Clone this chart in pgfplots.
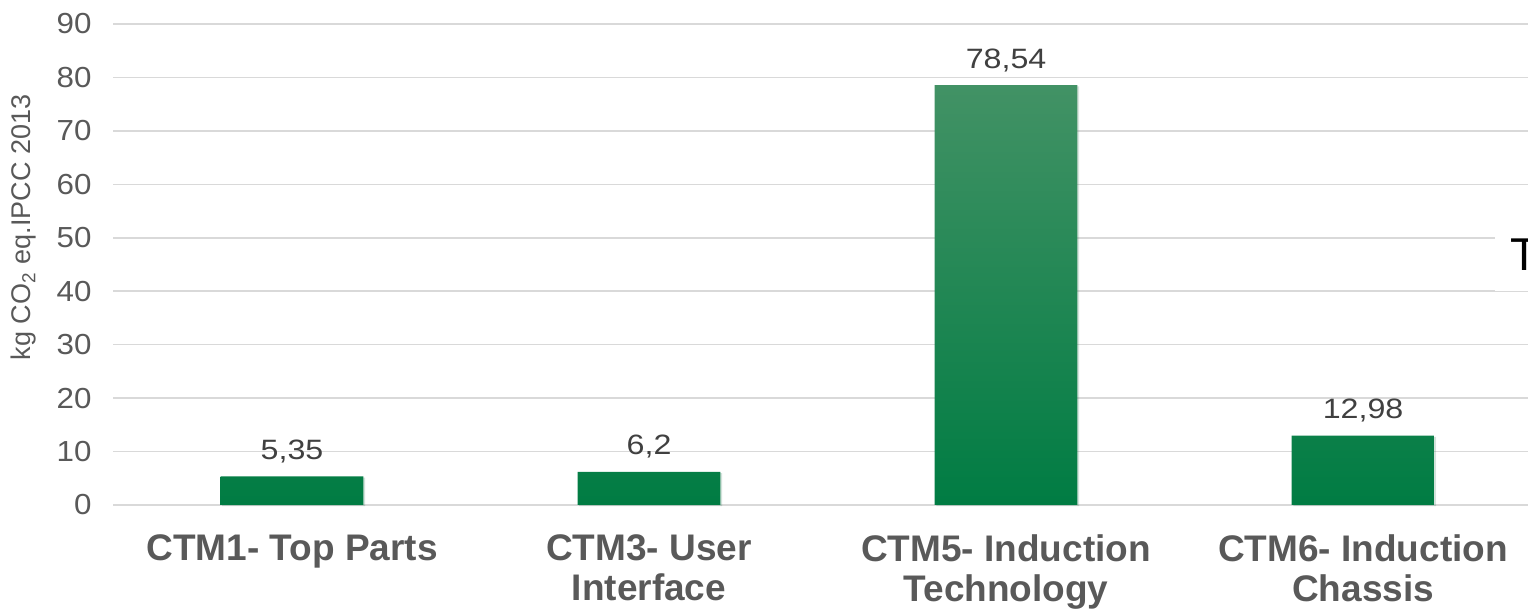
\documentclass[border=0pt]{standalone}
\usepackage{fontspec}
\setmainfont{Liberation Sans}
\newfontfamily\tickfont[FakeStretch=1.08]{Liberation Sans}
\newfontfamily\valfont[FakeStretch=1.15]{Liberation Sans}
\usepackage{pgfplots}
\pgfplotsset{compat=1.18}
\usetikzlibrary{shadows}
\definecolor{tickgray}{HTML}{595959}
\definecolor{valgray}{HTML}{404040}
\definecolor{gridgray}{HTML}{D9D9D9}
\definecolor{bartop}{RGB}{66,146,101}
\definecolor{barmid}{RGB}{0,136,74}
\definecolor{barbot}{RGB}{0,124,67}
\begin{document}
\begin{tikzpicture}
\begin{axis}[
  name=ax,
  scale only axis,
  width=707.25pt, height=240.5pt,
  xmin=-0.5, xmax=3.462,
  ymin=0, ymax=90,
  ytick={0,10,...,90},
  xtick={0,1,2,3},
  xticklabels={{CTM1- Top Parts},{CTM3- User\\Interface},{CTM5- Induction\\Technology},{CTM6- Induction\\Chassis}},
  xticklabel style={align=center, anchor=north, font=\fontsize{18.5}{20}\selectfont\bfseries, text=tickgray, yshift=-11.5pt},
  yticklabel style={font=\fontsize{14.5}{16}\selectfont\tickfont, text=tickgray, xshift=-7.5pt},
  /pgf/number format/assume math mode=true,
  axis line style={draw=none},
  ymajorgrids, grid style={gridgray, line width=0.75pt},
  major tick length=0pt,
  ylabel={kg CO\textsubscript{2} eq.IPCC 2013},
  ylabel style={at={(axis description cs:-0.0633,0.577)}, anchor=center, font=\fontsize{13.5}{16}\selectfont, text=tickgray},
  clip=false,
]
\addplot[ybar, bar width=0.4, draw=none, top color=bartop, middle color=barmid, bottom color=barbot,
  drop shadow={opacity=0.12, shadow xshift=0.8pt, shadow yshift=-0.6pt},
  nodes near coords,
  nodes near coords style={font=\fontsize{14}{16}\selectfont\valfont, text=valgray, anchor=south, yshift=3.2pt,
    /pgf/number format/use comma, /pgf/number format/assume math mode=true}]
  coordinates {(0,5.35) (1,6.2) (2,78.54) (3,12.98)};
\fill[white] (rel axis cs:0.9765,0.4445) rectangle (rel axis cs:1,0.62);
\draw[gridgray, line width=0.5pt] (rel axis cs:0.9765,0.4445) -- (rel axis cs:1,0.4445);
\node[anchor=base west, inner sep=0pt, font=\fontsize{23}{26}\selectfont, text=black] at (rel axis cs:0.987,0.4885) {T};
\end{axis}
\pgfresetboundingbox
\path ([xshift=-56.75pt,yshift=-52.5pt]ax.south west) rectangle ([yshift=12pt]ax.north east);
\end{tikzpicture}
\end{document}
